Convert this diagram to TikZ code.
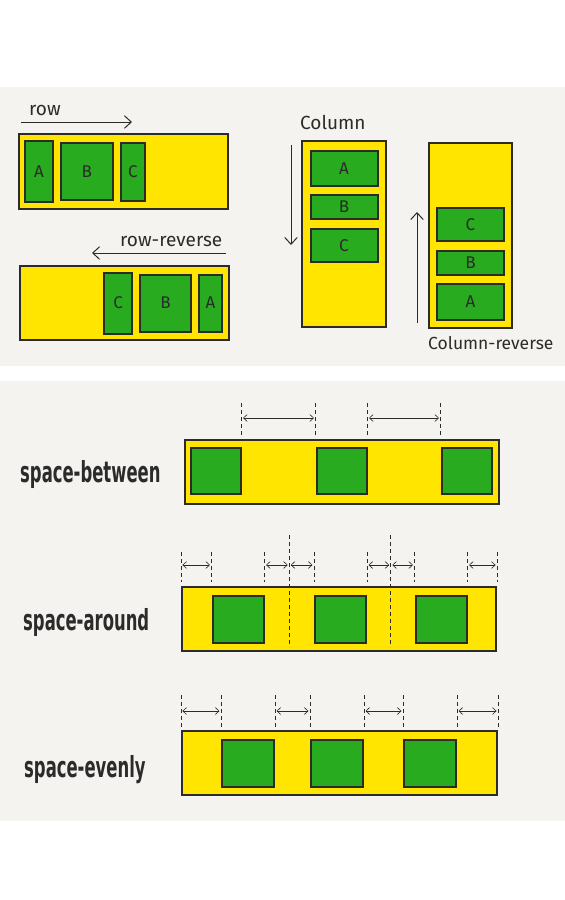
\documentclass[tikz,border=0pt]{standalone}
\usepackage{fontspec}
\setmainfont{Fira Sans}
\newfontfamily\tagfont{DejaVu Sans Condensed}
\usepackage{xcolor}
\usetikzlibrary{arrows.meta,positioning,calc}
\definecolor{ink}{HTML}{2B2B2B}
\definecolor{flexyellow}{HTML}{FFE500}
\definecolor{flexgreen}{HTML}{29AB1F}
\definecolor{paper}{HTML}{F4F3EF}
\newcommand{\narrowtag}[1]{\scalebox{0.63}[1]{#1}}
\tikzset{
  flexbox/.style={draw=ink, fill=flexyellow, line width=2.2pt, inner sep=0pt},
  flexitem/.style={draw=ink, fill=flexgreen, line width=2pt, inner sep=0pt, font=\fontsize{17}{17}\selectfont, text=ink},
  dirarrow/.style={-{Straight Barb[length=2.4mm, width=4.4mm]}, line width=1pt, ink},
  gaparrow/.style={{Straight Barb[length=1.3mm, width=2.4mm]}-{Straight Barb[length=1.3mm, width=2.4mm]}, line width=0.6pt, ink, shorten <=1.5pt, shorten >=1.5pt},
  guide/.style={dash pattern=on 4pt off 3pt, line width=0.7pt, ink},
  dirlabel/.style={font=\fontsize{19}{19}\selectfont, text=ink, inner sep=0pt},
  tag/.style={font=\tagfont\bfseries\fontsize{29}{29}\selectfont, text=ink, anchor=base west, inner sep=0pt},
}

\begin{document}
\begin{tikzpicture}[x=1pt, y=-1pt, node distance=6pt]
  \useasboundingbox[fill=white] (0,0) rectangle (565,900);
  \fill[paper] (0,87) rectangle (565,366);
  \fill[paper] (0,381) rectangle (565,821);

  \node[flexbox, minimum width=209pt, minimum height=75pt] (row) at (123.5,171.5) {};
  \node[flexitem, minimum width=28pt, minimum height=61pt, right=6pt of row.west] (rowA) {A};
  \node[flexitem, minimum width=52pt, minimum height=57pt, right=of rowA] (rowB) {B};
  \node[flexitem, minimum width=24pt, minimum height=58pt, right=of rowB] (rowC) {C};
  \node[dirlabel, anchor=west] (rowlbl) at (29,110) {row};
  \coordinate (rowstart) at (21,122);
  \coordinate (rowend) at (132,122);
  \draw[dirarrow] (rowstart) -- (rowend);

  \node[flexbox, minimum width=209pt, minimum height=74pt] (rrev) at (124.5,303) {};
  \node[flexitem, minimum width=23pt, minimum height=57pt, left=7pt of rrev.east] (rrevA) {A};
  \node[flexitem, minimum width=51pt, minimum height=57pt, left=of rrevA] (rrevB) {B};
  \node[flexitem, minimum width=28pt, minimum height=61pt, left=of rrevB] (rrevC) {C};
  \node[dirlabel, anchor=west] (rrevlbl) at (120,241) {row-reverse};
  \coordinate (rrevstart) at (226,253);
  \coordinate (rrevend) at (92,253);
  \draw[dirarrow] (rrevstart) -- (rrevend);

  \node[flexbox, minimum width=84pt, minimum height=186pt] (col) at (344,234) {};
  \node[flexitem, minimum width=67pt, minimum height=35pt, below=10pt of col.north] (colA) {A};
  \node[flexitem, minimum width=67pt, minimum height=24pt, below=7pt of colA] (colB) {B};
  \node[flexitem, minimum width=67pt, minimum height=33pt, below=8pt of colB] (colC) {C};
  \node[dirlabel, anchor=west] (collbl) at (300,122) {Column};
  \coordinate (colstart) at (291,145);
  \coordinate (colend) at (291,245);
  \draw[dirarrow] (colstart) -- (colend);

  \node[flexbox, minimum width=83pt, minimum height=185pt] (crev) at (470.5,235.5) {};
  \node[flexitem, minimum width=67pt, minimum height=36pt, above=8pt of crev.south] (crevA) {A};
  \node[flexitem, minimum width=67pt, minimum height=24pt, above=7pt of crevA] (crevB) {B};
  \node[flexitem, minimum width=67pt, minimum height=33pt, above=8pt of crevB] (crevC) {C};
  \node[dirlabel, anchor=west, font=\fontsize{17.5}{17.5}\selectfont] (crevlbl) at (428,343) {Column-reverse};
  \coordinate (crevstart) at (417,323);
  \coordinate (crevend) at (417,212);
  \draw[dirarrow] (crevstart) -- (crevend);

  \node[tag] (sblbl) at (20,482) {\narrowtag{space-between}};
  \node[flexbox, minimum width=314pt, minimum height=64pt] (sb) at (342,472) {};
  \foreach \i/\x in {1/215.5,2/341.5,3/466.5}
    \node[flexitem, minimum width=50pt, minimum height=46pt] (sb\i) at (\x,471) {};
  \coordinate (sbtop) at (0,403);
  \coordinate (sbbot) at (0,435);
  \coordinate (sbgap) at (0,418);
  \foreach \p in {sb1.east,sb2.west,sb2.east,sb3.west}
    \draw[guide] (\p |- sbtop) -- (\p |- sbbot);
  \draw[gaparrow] (sb1.east |- sbgap) -- (sb2.west |- sbgap);
  \draw[gaparrow] (sb2.east |- sbgap) -- (sb3.west |- sbgap);

  \node[tag] (salbl) at (23,630) {\narrowtag{space-around}};
  \node[flexbox, minimum width=314pt, minimum height=64pt] (sa) at (339,619) {};
  \foreach \i/\x in {1/238,2/340.5,3/441}
    \node[flexitem, minimum width=51pt, minimum height=47pt] (sa\i) at (\x,619.5) {};
  \coordinate (sam1) at ($(sa1.east)!0.5!(sa2.west)$);
  \coordinate (sam2) at ($(sa2.east)!0.5!(sa3.west)$);
  \coordinate (satop) at (0,552);
  \coordinate (sabot) at (0,582);
  \coordinate (sagap) at (0,565);
  \coordinate (samidtop) at (0,535);
  \coordinate (samidbot) at (0,647);
  \foreach \p in {sa.west,sa1.west,sa1.east,sa2.west,sa2.east,sa3.west,sa3.east,sa.east}
    \draw[guide] (\p |- satop) -- (\p |- sabot);
  \foreach \p in {sam1,sam2}
    \draw[guide] (\p |- samidtop) -- (\p |- samidbot);
  \draw[gaparrow] (sa.west |- sagap) -- (sa1.west |- sagap);
  \draw[gaparrow] (sa1.east |- sagap) -- (sam1 |- sagap);
  \draw[gaparrow] (sam1 |- sagap) -- (sa2.west |- sagap);
  \draw[gaparrow] (sa2.east |- sagap) -- (sam2 |- sagap);
  \draw[gaparrow] (sam2 |- sagap) -- (sa3.west |- sagap);
  \draw[gaparrow] (sa3.east |- sagap) -- (sa.east |- sagap);

  \node[tag] (selbl) at (24,777) {\narrowtag{space-evenly}};
  \node[flexbox, minimum width=315pt, minimum height=64pt] (se) at (339.5,763) {};
  \foreach \i/\x in {1/248,2/337,3/430}
    \node[flexitem, minimum width=52pt, minimum height=47pt] (se\i) at (\x,763.5) {};
  \coordinate (setop) at (0,695);
  \coordinate (sebot) at (0,727);
  \coordinate (segap) at (0,711);
  \foreach \p in {se.west,se1.west,se1.east,se2.west,se2.east,se3.west,se3.east,se.east}
    \draw[guide] (\p |- setop) -- (\p |- sebot);
  \draw[gaparrow] (se.west |- segap) -- (se1.west |- segap);
  \draw[gaparrow] (se1.east |- segap) -- (se2.west |- segap);
  \draw[gaparrow] (se2.east |- segap) -- (se3.west |- segap);
  \draw[gaparrow] (se3.east |- segap) -- (se.east |- segap);
\end{tikzpicture}
\end{document}
